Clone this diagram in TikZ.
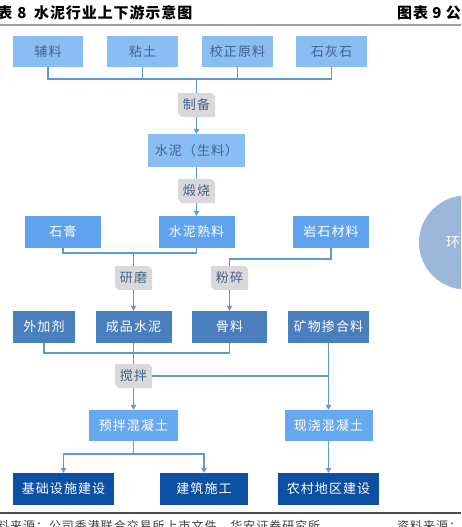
\documentclass[tikz,border=0pt]{standalone}
\usepackage{fontspec}
\newfontfamily\cjk[LetterSpace=8]{Noto Sans CJK SC}
\newfontfamily\cjkh[LetterSpace=6]{Noto Sans CJK SC}
\usetikzlibrary{arrows.meta}
\definecolor{cTop}{HTML}{8ABDF4}
\definecolor{cMid}{HTML}{5FA3EE}
\definecolor{cPre}{HTML}{67A9F0}
\definecolor{cSteel}{HTML}{4A7EBD}
\definecolor{cDark}{HTML}{0D4FA2}
\definecolor{cLine}{HTML}{5B9BD5}
\definecolor{cLbl}{HTML}{D9D9D9}
\definecolor{cTxt}{HTML}{45628F}
\definecolor{cCirc}{HTML}{9BB8DA}
\tikzset{
  bx/.style={minimum height=31pt, inner sep=0pt, font=\cjk\fontsize{13}{13}\selectfont},
  boxtop/.style={bx, fill=cTop, text=cTxt},
  boxmid/.style={bx, fill=cMid, text=white},
  boxpre/.style={bx, fill=cPre, text=white},
  boxsteel/.style={bx, fill=cSteel, text=white},
  boxdark/.style={bx, fill=cDark, text=white},
  lbl/.style={minimum width=37pt, minimum height=24pt, inner sep=0pt, text=cTxt, font=\cjk\fontsize{13}{13}\selectfont},
  ln/.style={draw=cLine, line width=1.1pt},
  arr/.style={ln, -{Triangle[length=5pt,width=5.5pt]}},
}
\newcommand\mylbl[4]{%
  \fill[cLbl] (#2-18.5,#3-12) -- (#2+15,#3-12) -- (#2+18.5,#3-8.5) -- (#2+18.5,#3+12)
     -- (#2-15,#3+12) -- (#2-18.5,#3+8.5) -- cycle;
  \node[lbl] (#1) at (#2,#3) {#4};}
\begin{document}
\begin{tikzpicture}[x=1pt,y=-1pt]
\useasboundingbox (0,0) rectangle (461,527);
\clip (0,0) rectangle (461,527);
\fill[white] (0,0) rectangle (461,527);
% header
\node[font=\cjkh\bfseries\fontsize{15}{15}\selectfont, anchor=center] (hA) at (5,13) {表};
\node[font=\cjkh\bfseries\fontsize{15}{15}\selectfont, anchor=center] (hB) at (22,13) {8};
\node[font=\cjkh\bfseries\fontsize{15}{15}\selectfont, anchor=west, inner sep=0pt] (hC) at (34,13) {水泥行业上下游示意图};
\node[font=\cjkh\bfseries\fontsize{15}{15}\selectfont, anchor=west, inner sep=0pt] (hD) at (397,13) {图表 9 公};
\draw[gray!75, line width=1.6pt] (0,25) -- (461,25);
% circle at right
\node[circle, fill=cCirc, draw=white, line width=0.8pt, minimum size=95pt, inner sep=0pt] (circ) at (466,242.5) {};
\node[text=white, font=\cjk\fontsize{14}{14}\selectfont] (huan) at (453,243) {环};
% row 1
\node[boxtop, minimum width=70pt] (fl) at (48,51.5) {辅料};
\node[boxtop, minimum width=71pt] (nt) at (142.5,51.5) {粘土};
\node[boxtop, minimum width=71pt] (jz) at (237.5,51.5) {校正原料};
\node[boxtop, minimum width=71pt] (shs) at (331.5,51.5) {石灰石};
\coordinate (h1) at (196.5,79);
\mylbl{zb}{196.5}{105}{制备}
\node[boxtop, minimum width=97pt, minimum height=33pt] (sl) at (196.5,150.5) {水泥（生料）};
\mylbl{dy}{196.5}{191}{煅烧}
% row 3
\node[boxmid, minimum width=76pt, minimum height=32pt] (sg) at (63,232) {石膏};
\node[boxmid, minimum width=76pt, minimum height=32pt] (sll) at (196.5,232) {水泥熟料};
\node[boxmid, minimum width=76pt, minimum height=32pt] (ys) at (331,232) {岩石材料};
\coordinate (h2) at (133.5,253);
\coordinate (h3) at (229.5,259);
\mylbl{ym}{133.5}{278}{研磨}
\mylbl{fs}{229.5}{278}{粉碎}
% row 4
\node[boxsteel, minimum width=62pt, minimum height=32pt] (wj) at (44,327) {外加剂};
\node[boxsteel, minimum width=76pt, minimum height=32pt] (cp) at (133.5,327) {成品水泥};
\node[boxsteel, minimum width=75pt, minimum height=32pt] (gl) at (229.5,327) {骨料};
\node[boxsteel, minimum width=81pt, minimum height=32pt] (kw) at (328.5,327) {矿物掺合料};
\coordinate (h4) at (133.5,353);
\mylbl{jb}{133.5}{376}{搅拌}
% row 5
\node[boxpre, minimum width=89pt] (yb) at (133.5,425.5) {预拌混凝土};
\node[boxpre, minimum width=88pt] (xj) at (328.5,425.5) {现浇混凝土};
\coordinate (h5) at (133.5,454);
% row 6
\node[boxdark, minimum width=101pt, minimum height=32pt] (jc) at (63.5,489) {基础设施建设};
\node[boxdark, minimum width=88pt, minimum height=32pt] (jzsg) at (204,489) {建筑施工};
\node[boxdark, minimum width=101pt, minimum height=32pt] (nc) at (328.5,489) {农村地区建设};
% connectors
\draw[ln] (fl.south) |- (h1) -| (shs.south);
\draw[ln] (nt.south) -- (nt.south |- h1);
\draw[ln] (jz.south) -- (jz.south |- h1);
\draw[ln] (h1) -- (zb.north);
\draw[arr] (zb.south) -- (sl.north);
\draw[ln] (sl.south) -- (dy.north);
\draw[arr] (dy.south) -- (sll.north);
\draw[ln] (sg.south) |- (h2) -| (sll.south);
\draw[ln] (h2) -- (ym.north);
\draw[arr] (ym.south) -- (cp.north);
\draw[ln] (ys.south) |- (h3) -- (fs.north);
\draw[arr] (fs.south) -- (gl.north);
\draw[ln] (wj.south) |- (h4) -| (gl.south);
\draw[ln] (cp.south) -- (jb.north);
\draw[arr] (jb.south) -- (yb.north);
\draw[ln] (jb.east) -- (kw.south |- jb.east);
\draw[arr] (kw.south) -- (xj.north);
\draw[ln] (yb.south) -- (h5);
\draw[arr] (h5) -| (jc.north);
\draw[arr] (h5) -| (jzsg.north);
\draw[arr] (xj.south) -- (nc.north);
% footer
\draw[black!70, line width=1.4pt] (0,513) -- (461,513);
\node[anchor=north west, inner sep=0pt, text=black!75, font=\cjk\fontsize{12}{12}\selectfont] (src1) at (-3,520) {料来源：公司香港联合交易所上市文件，华安证券研究所};
\node[anchor=north west, inner sep=0pt, text=black!75, font=\cjk\fontsize{12}{12}\selectfont] (src2) at (397,520) {资料来源：};
\end{tikzpicture}
\end{document}
